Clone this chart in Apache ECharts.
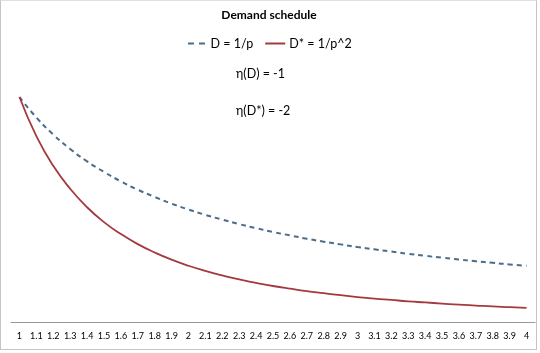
<!DOCTYPE html>
<html><head><meta charset="utf-8">
<script src="https://cdn.jsdelivr.net/npm/echarts@6/dist/echarts.min.js"></script>
<style>
html,body{margin:0;padding:0;background:#fff;}
#frame{position:absolute;left:0;top:0;width:537px;height:350px;border:1px solid #c4c4c4;border-top-color:#e0e0e0;box-sizing:border-box;}
#c{position:absolute;left:0;top:0;width:540px;height:353px;}
</style></head>
<body>
<div id="frame"></div>
<div id="c"></div>
<script>
var prices = ['1','1.1','1.2','1.3','1.4','1.5','1.6','1.7','1.8','1.9','2','2.1','2.2','2.3','2.4','2.5','2.6','2.7','2.8','2.9','3','3.1','3.2','3.3','3.4','3.5','3.6','3.7','3.8','3.9','4'];
var demandD = [1,0.909,0.833,0.769,0.714,0.667,0.625,0.588,0.556,0.526,0.5,0.476,0.455,0.435,0.417,0.4,0.385,0.37,0.357,0.345,0.333,0.323,0.313,0.303,0.294,0.286,0.278,0.27,0.263,0.256,0.25];
var demandDStar = [1,0.826,0.694,0.592,0.51,0.444,0.391,0.346,0.309,0.277,0.25,0.227,0.207,0.189,0.174,0.16,0.148,0.137,0.128,0.119,0.111,0.104,0.098,0.092,0.087,0.082,0.077,0.073,0.069,0.066,0.0625];
var seriesNames = ['D = 1/p','D* = 1/p^2'];
var titleText = 'Demand schedule';
var notes = ['η(D) = -1','η(D*) = -2'];

var font = 'Lato, "Open Sans", sans-serif';
var chart = echarts.init(document.getElementById('c'), null, {renderer:'canvas'});
chart.setOption({
  animation:false,
  title:[
    {text:titleText,left:269,top:9,padding:0,textAlign:'center',textStyle:{fontFamily:font,fontSize:12,fontWeight:'bold',color:'#000'}},
    {text:notes[0],left:236,top:67,padding:0,textStyle:{fontFamily:font,fontSize:12.5,fontWeight:'normal',color:'#000'}},
    {text:notes[1],left:236,top:104,padding:0,textStyle:{fontFamily:font,fontSize:12.5,fontWeight:'normal',color:'#000'}}
  ],
  legend:{
    top:37,left:188,padding:0,itemGap:12,itemWidth:20,itemHeight:2,
    textStyle:{fontFamily:font,fontSize:12.5,color:'#000',padding:[0,0,0,-1]},
    data:[
      {name:seriesNames[0],icon:'path://M0,0H6V2H0Z M11,0H17V2H11Z'},
      {name:seriesNames[1],icon:'path://M0,0H20V2H0Z'}
    ]
  },
  grid:{left:11,right:5,top:52,bottom:31,containLabel:false},
  xAxis:{
    type:'category',data:prices,boundaryGap:true,
    axisLine:{lineStyle:{color:'#999',width:1}},
    axisTick:{show:false},
    axisLabel:{interval:0,fontFamily:font,fontSize:9,color:'#000',margin:10}
  },
  yAxis:{type:'value',min:0,max:1.2,show:false,splitLine:{show:false}},
  series:[
    {name:seriesNames[0],type:'line',data:demandD,symbol:'none',smooth:true,
     lineStyle:{color:'#4a6d8c',width:2,type:[5,4]},itemStyle:{color:'#4a6d8c'}},
    {name:seriesNames[1],type:'line',data:demandDStar,symbol:'none',smooth:true,
     lineStyle:{color:'#a33a3e',width:1.8},itemStyle:{color:'#a33a3e'}}
  ]
});
</script>
</body></html>
